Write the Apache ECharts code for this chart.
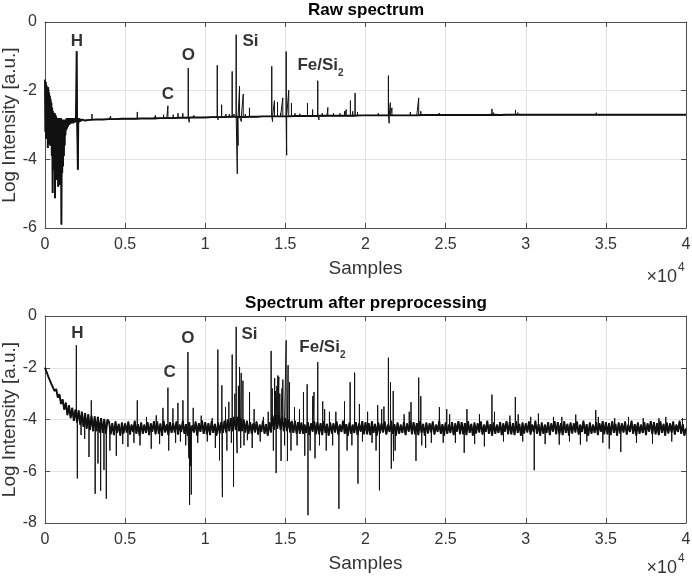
<!DOCTYPE html>
<html><head><meta charset="utf-8">
<script src="https://cdn.jsdelivr.net/npm/echarts@6/dist/echarts.min.js"></script>
<style>html,body{margin:0;padding:0;background:#fff}#c{width:692px;height:577px}</style>
</head><body><div id="c"></div>
<script>
// ---------- DATA ----------
// Raw spectrum, dense early part (sample index start/step + values)
const rawEarlyStart = 0, rawEarlyStep = 25;
const rawEarly = [
  -1.68,-3.20,-1.75,-3.40,-1.85,-3.10,-1.95,-3.67,-1.90,-3.30,
  -2.05,-3.55,-2.15,-3.60,-2.25,-3.45,-2.35,-3.90,-2.50,-4.98,
  -2.60,-4.30,-2.65,-4.10,-2.65,-5.13,-2.70,-4.40,-2.75,-4.60,
  -2.80,-4.50,-2.80,-4.80,-2.80,-4.60,-2.80,-4.75,-2.85,-4.50,
  -2.80,-5.90,-2.85,-4.40,-2.85,-4.20,-2.85,-3.90,-2.85,-3.60,
  -2.85,-3.30,-2.85,-3.15,-2.80,-3.10,-2.85,-3.05,-2.80,-3.00,
  -2.85,-3.00,-2.80,-2.95,-2.82,-2.95,-2.80,-2.95,-2.82,-2.92,
  -2.80,-2.95,-2.82,-2.92,-2.80,-2.90,-2.80,-2.92,-2.20,-0.85,
  -2.70,-3.40,-4.30,-2.95,-2.80,-2.92,-2.82,-2.90,-2.82,-2.88,
  -2.83,-2.88,-2.83,-2.88,-2.84,-2.87,-2.84,-2.87,-2.84,-2.87
];
// Raw spectrum baseline
const rawBaseStart = 2800, rawBaseStep = 400;
const rawBase = [
  -2.85,-2.84,-2.84,-2.83,-2.83,-2.82,-2.82,-2.82,-2.81,-2.81,
  -2.81,-2.80,-2.80,-2.80,-2.79,-2.79,-2.78,-2.78,-2.78,-2.77,
  -2.77,-2.77,-2.76,-2.76,-2.77,-2.76,-2.76,-2.75,-2.75,-2.75,
  -2.75,-2.75,-2.74,-2.74,-2.74,-2.74,-2.73,-2.73,-2.73,-2.73,
  -2.73,-2.73,-2.72,-2.72,-2.72,-2.72,-2.72,-2.72,-2.72,-2.72,
  -2.72,-2.72,-2.71,-2.71,-2.71,-2.71,-2.71,-2.71,-2.71,-2.71,
  -2.71,-2.71,-2.71,-2.70,-2.71,-2.70,-2.70,-2.70,-2.70,-2.70,
  -2.70,-2.70,-2.70,-2.70,-2.70,-2.70,-2.70,-2.70,-2.70,-2.70,
  -2.70,-2.70,-2.70,-2.70,-2.70,-2.70,-2.70,-2.70,-2.70,-2.70,
  -2.70,-2.70,-2.70,-2.70
];
// Raw spectrum peaks: [sample, base value, peak value]
const rawPeaks = [
  [2930,-2.84,-2.68],[4100,-2.83,-2.74],[5760,-2.82,-2.62],[6900,-2.80,-2.72],
  [7400,-2.80,-2.70],[7670,-2.79,-2.44],[8000,-2.79,-2.70],[8300,-2.79,-2.66],
  [8600,-2.78,-2.66],[8940,-2.78,-1.34],[9000,-2.78,-2.92],[9300,-2.78,-2.72],
  [10750,-2.77,-1.26],[10800,-2.77,-2.85],[11020,-2.77,-2.41],[11300,-2.76,-2.68],
  [11500,-2.76,-2.68],[11680,-2.76,-1.44],[11800,-2.76,-2.68],[11930,-2.76,-0.37],
  [12000,-2.76,-4.42],[12050,-2.76,-3.60],[12140,-2.76,-1.87],[12250,-2.76,-2.90],
  [12370,-2.76,-2.10],[12500,-2.76,-2.68],[12760,-2.76,-2.50],[14150,-2.75,-1.29],
  [14200,-2.75,-2.90],[14320,-2.75,-2.29],[14510,-2.75,-2.33],[14700,-2.75,-2.65],
  [14840,-2.75,-2.21],[15050,-2.75,-0.86],[15080,-2.75,-3.88],[15210,-2.75,-1.99],
  [15380,-2.75,-2.36],[15600,-2.75,-2.66],[15900,-2.74,-2.67],[16380,-2.74,-2.36],
  [16700,-2.74,-2.55],[17020,-2.74,-1.71],[17100,-2.74,-2.85],[17300,-2.74,-2.66],
  [17650,-2.73,-2.49],[18000,-2.73,-2.66],[18400,-2.73,-2.66],[18700,-2.73,-2.60],
  [18800,-2.73,-2.55],[19060,-2.73,-2.29],[19200,-2.73,-2.60],[19350,-2.73,-2.07],
  [19500,-2.73,-2.62],[20800,-2.72,-2.66],[21430,-2.72,-1.56],[21480,-2.72,-2.95],
  [21550,-2.72,-2.35],[21650,-2.72,-2.50],[22800,-2.72,-2.62],[23320,-2.72,-2.21],
  [23450,-2.72,-2.60],[24600,-2.71,-2.65],[25100,-2.71,-2.66],[26300,-2.71,-2.66],
  [27890,-2.71,-2.53],[28000,-2.71,-2.64],[29360,-2.70,-2.56],[29500,-2.70,-2.64],
  [30800,-2.70,-2.66],[34400,-2.70,-2.64]
];
// Preprocessed spectrum baseline (step 100 samples)
const procBaseStart = 0, procBaseStep = 100;
const procBase = [
  -2.00,-2.07,-2.33,-2.34,-2.63,-2.57,-2.90,-2.82,-3.15,-3.02,-3.40,-3.22,-3.62,-3.35,-3.83,-3.45,-3.95,-3.55,-4.05,-3.62,
  -4.12,-3.65,-4.20,-3.70,-4.28,-3.75,-4.35,-3.80,-4.40,-3.85,-4.45,-3.88,-4.45,-3.90,-4.50,-3.95,-4.52,-3.98,-4.55,-4.00,
  -4.10,-4.57,-4.14,-4.60,-4.07,-4.52,-4.17,-4.62,-4.12,-4.54,-4.15,-4.50,-4.08,-4.58,-4.20,-4.48,-4.05,-4.55,-4.18,-4.62,
  -4.12,-4.55,-4.20,-4.52,-4.10,-4.60,-4.15,-4.47,-4.06,-4.57,-4.08,-4.55,-4.16,-4.63,-4.05,-4.50,-4.19,-4.60,-4.10,-4.52,
  -4.15,-4.50,-4.08,-4.58,-4.20,-4.48,-4.05,-4.55,-4.18,-4.62,-4.10,-4.58,-4.22,-4.50,-4.08,-4.62,-4.14,-4.48,-4.04,-4.56,
  -4.10,-4.57,-4.14,-4.60,-4.07,-4.52,-4.17,-4.62,-4.12,-4.54,-4.10,-4.52,-4.05,-4.50,-4.00,-4.45,-3.95,-4.45,-3.90,-4.40,
  -3.90,-4.45,-3.95,-4.45,-4.00,-4.50,-4.05,-4.55,-4.10,-4.55,-4.15,-4.50,-4.08,-4.58,-4.20,-4.48,-4.05,-4.55,-4.18,-4.62,
  -4.10,-4.50,-3.85,-4.40,-3.80,-4.35,-3.85,-4.40,-3.90,-4.45,-3.95,-4.45,-4.00,-4.50,-4.05,-4.52,-4.05,-4.55,-4.10,-4.55,
  -4.12,-4.55,-4.20,-4.52,-4.10,-4.60,-4.15,-4.47,-4.06,-4.57,-4.10,-4.57,-4.14,-4.60,-4.07,-4.52,-4.17,-4.62,-4.12,-4.54,
  -4.15,-4.50,-4.08,-4.58,-4.20,-4.48,-4.05,-4.55,-4.18,-4.62,-4.12,-4.55,-4.20,-4.52,-4.10,-4.60,-4.15,-4.47,-4.06,-4.57,
  -4.10,-4.57,-4.14,-4.60,-4.07,-4.52,-4.17,-4.62,-4.12,-4.54,-4.15,-4.50,-4.08,-4.58,-4.20,-4.48,-4.05,-4.55,-4.18,-4.62,
  -4.12,-4.55,-4.20,-4.52,-4.10,-4.60,-4.15,-4.47,-4.06,-4.57,-4.10,-4.57,-4.14,-4.60,-4.07,-4.52,-4.17,-4.62,-4.12,-4.54,
  -4.15,-4.50,-4.08,-4.58,-4.20,-4.48,-4.05,-4.55,-4.18,-4.62,-4.12,-4.55,-4.20,-4.52,-4.10,-4.60,-4.15,-4.47,-4.06,-4.57,
  -4.10,-4.57,-4.14,-4.60,-4.07,-4.52,-4.17,-4.62,-4.12,-4.54,-4.15,-4.50,-4.08,-4.58,-4.20,-4.48,-4.05,-4.55,-4.18,-4.62,
  -4.12,-4.55,-4.20,-4.52,-4.10,-4.60,-4.15,-4.47,-4.06,-4.57,-4.10,-4.57,-4.14,-4.60,-4.07,-4.52,-4.17,-4.62,-4.12,-4.54,
  -4.15,-4.50,-4.08,-4.58,-4.20,-4.48,-4.05,-4.55,-4.18,-4.62,-4.12,-4.55,-4.20,-4.52,-4.10,-4.60,-4.15,-4.47,-4.06,-4.57,
  -4.10,-4.57,-4.14,-4.60,-4.07,-4.52,-4.17,-4.62,-4.12,-4.54,-4.15,-4.50,-4.08,-4.58,-4.20,-4.48,-4.05,-4.55,-4.18,-4.62,
  -4.12,-4.55,-4.20,-4.52,-4.10,-4.60,-4.15,-4.47,-4.06,-4.57,-4.10,-4.57,-4.14,-4.60,-4.07,-4.52,-4.17,-4.62,-4.12,-4.54,
  -4.15,-4.50,-4.08,-4.58,-4.20,-4.48,-4.05,-4.55,-4.18,-4.62,-4.12,-4.55,-4.20,-4.52,-4.10,-4.60,-4.15,-4.47,-4.06,-4.57,
  -4.10,-4.57,-4.14,-4.60,-4.07,-4.52,-4.17,-4.62,-4.12,-4.54,-4.15,-4.50,-4.08,-4.58,-4.20,-4.48,-4.05,-4.55,-4.18,-4.62,
  -4.35
];
// Preprocessed spectrum peaks: [sample, base value, extreme value]
const procPeaks = [
  [1956,-3.85,-1.13],[2018,-3.90,-6.28],[2250,-3.95,-4.60],[2476,-4.00,-4.75],
  [2745,-4.10,-5.45],[2890,-4.10,-3.26],[3130,-4.15,-6.87],[3306,-4.20,-5.70],
  [3472,-4.20,-6.75],[3680,-4.25,-5.95],[3826,-4.25,-7.06],[4050,-4.30,-5.20],
  [4450,-4.30,-5.40],[4850,-4.30,-4.95],[5176,-4.30,-5.06],[5550,-4.30,-4.90],
  [5759,-4.30,-3.26],[5930,-4.30,-5.00],[6330,-4.30,-3.90],[6630,-4.30,-5.13],
  [6943,-4.30,-3.84],[7150,-4.30,-4.95],[7359,-4.30,-3.55],[7670,-4.30,-2.77],
  [7720,-4.30,-5.20],[7982,-4.30,-3.57],[8150,-4.30,-4.90],[8294,-4.30,-3.36],
  [8450,-4.30,-4.85],[8606,-4.30,-3.26],[8780,-4.30,-5.00],[8918,-4.30,-1.39],
  [8980,-4.30,-5.50],[9022,-4.30,-7.30],[9080,-4.30,-5.80],[9130,-4.30,-6.90],
  [9250,-4.30,-3.55],[9530,-4.30,-4.90],[9750,-4.30,-3.85],[10130,-4.30,-4.85],
  [10430,-4.30,-3.95],[10630,-4.30,-5.10],[10785,-4.30,-1.30],[10890,-4.30,-5.58],
  [11036,-4.30,-2.68],[11070,-4.30,-7.00],[11265,-4.20,-3.52],[11350,-4.20,-5.20],
  [11473,-4.20,-3.32],[11630,-4.20,-4.90],[11681,-4.10,-1.49],[11764,-4.10,-6.60],
  [11850,-4.10,-3.00],[11930,-4.10,-0.42],[11990,-4.10,-5.30],[12070,-4.10,-2.70],
  [12140,-4.10,-1.97],[12210,-4.10,-5.10],[12244,-4.10,-2.20],[12350,-4.10,-2.50],
  [12420,-4.10,-5.00],[12630,-4.20,-4.80],[12764,-4.20,-2.94],[12930,-4.20,-5.10],
  [13050,-4.30,-3.60],[13430,-4.30,-4.85],[13630,-4.30,-3.90],[13930,-4.30,-3.70],
  [14110,-4.20,-1.35],[14180,-4.10,-2.80],[14250,-4.00,-5.20],[14330,-4.00,-2.40],
  [14380,-4.00,-2.90],[14422,-4.00,-6.07],[14470,-4.00,-2.70],[14530,-4.00,-2.30],
  [14590,-4.00,-2.35],[14650,-4.00,-3.00],[14730,-4.00,-5.60],[14790,-4.00,-2.80],
  [14840,-4.00,-2.46],[14950,-4.00,-5.00],[15050,-4.00,-0.94],[15130,-4.00,-5.60],
  [15170,-4.00,-1.90],[15256,-4.10,-2.56],[15350,-4.10,-5.20],[15570,-4.20,-3.52],
  [15730,-4.30,-5.00],[15880,-4.30,-3.60],[16130,-4.30,-2.94],[16210,-4.30,-5.40],
  [16360,-4.30,-2.64],[16410,-4.30,-7.70],[16550,-4.30,-5.20],[16710,-4.30,-3.10],
  [16790,-4.30,-2.94],[16850,-4.30,-5.50],[17020,-4.30,-1.78],[17130,-4.30,-5.00],
  [17330,-4.30,-3.30],[17450,-4.30,-3.60],[17550,-4.30,-5.20],[17750,-4.30,-3.70],
  [17950,-4.30,-5.00],[18150,-4.30,-3.70],[18340,-4.30,-7.45],[18690,-4.30,-3.30],
  [18850,-4.30,-5.20],[19040,-4.30,-2.56],[19150,-4.30,-5.00],[19320,-4.30,-2.19],
  [19530,-4.30,-6.48],[19620,-4.30,-3.40],[19810,-4.30,-4.85],[20130,-4.30,-3.70],
  [20410,-4.30,-4.90],[20660,-4.30,-5.20],[20760,-4.30,-3.45],[20870,-4.30,-6.74],
  [21010,-4.30,-3.60],[21150,-4.30,-3.50],[21430,-4.30,-1.61],[21560,-4.30,-2.56],
  [21610,-4.30,-5.90],[21730,-4.30,-2.90],[21750,-4.30,-5.60],[21850,-4.30,-5.20],
  [22410,-4.30,-3.80],[22730,-4.30,-3.70],[22840,-4.30,-3.33],[23150,-4.30,-5.60],
  [23320,-4.30,-2.38],[23450,-4.30,-3.10],[23510,-4.30,-5.00],[23750,-4.30,-5.10],
  [24110,-4.30,-4.90],[24610,-4.30,-3.52],[24850,-4.30,-4.90],[25070,-4.30,-3.60],
  [25250,-4.30,-3.80],[25610,-4.30,-4.90],[26160,-4.30,-5.29],[26330,-4.30,-3.60],
  [26810,-4.30,-4.95],[27110,-4.30,-3.80],[27420,-4.30,-5.04],[27890,-4.30,-3.04],
  [28050,-4.30,-3.70],[28610,-4.30,-4.85],[29010,-4.30,-3.85],[29350,-4.30,-3.13],
  [29530,-4.30,-3.80],[29810,-4.30,-4.85],[30310,-4.30,-3.90],[30530,-4.30,-5.96],
  [30790,-4.30,-3.77],[31210,-4.30,-4.95],[31730,-4.30,-3.90],[32090,-4.30,-4.97],
  [32250,-4.30,-3.90],[32730,-4.30,-4.85],[33120,-4.30,-3.81],[33410,-4.30,-4.97],
  [33810,-4.30,-4.85],[34370,-4.30,-3.64],[34530,-4.30,-3.90],[34810,-4.30,-4.90],
  [35210,-4.30,-5.13],[35550,-4.30,-3.95],[35930,-4.30,-5.26],[36410,-4.30,-3.90],
  [36910,-4.30,-4.90],[37330,-4.30,-3.95],[37910,-4.30,-4.93],[38310,-4.30,-3.95],
  [38740,-4.30,-3.90],[39110,-4.30,-4.85],[39780,-4.30,-3.95]
];
// Axis ticks
const xTickValues = [0,5000,10000,15000,20000,25000,30000,35000,40000];
const rawYTicks = [-6,-4,-2,0];
const procYTicks = [-8,-6,-4,-2,0];
// Peak annotations (text, sample, value)
const rawLabelText = ['H','C','O','Si','Fe/Si2'];
const rawLabelX = [1995,7668,8940,12824,17190];
const rawLabelY = [-0.57,-2.12,-0.98,-0.57,-1.26];
const procLabelText = ['H','C','O','Si','Fe/Si2'];
const procLabelX = [2020,7775,8915,12760,17310];
const procLabelY = [-0.68,-2.19,-0.85,-0.72,-1.20];

// ---------- BUILD ----------
function build(segments, peaks) {
  const pts = [];
  segments.forEach(([start, step, vals]) => vals.forEach((v, i) => pts.push([start + i * step, v, 0])));
  peaks.forEach(([x, from, to]) => { pts.push([x, from, 1]); pts.push([x, to, 2]); pts.push([x, from, 3]); });
  pts.sort((a, b) => a[0] - b[0] || a[2] - b[2]);
  return pts.map(p => [p[0], p[1]]);
}
const rawSegs = [[rawEarlyStart, rawEarlyStep, rawEarly], [rawBaseStart, rawBaseStep, rawBase]];
const procSegs = [[procBaseStart, procBaseStep, procBase]];
const rawData = build(rawSegs, rawPeaks);
const procData = build(procSegs, procPeaks);
const rawBand = build(rawSegs, []);
const procBand = build(procSegs, []);

const FONT = '"Liberation Sans", Arial, Helvetica, sans-serif';
const AX = '#4d4d4d';
const TXT = '#333333';
const GRIDC = '#e3e3e3';

function labelData(texts, xs, ys) {
  return texts.map((t, i) => ({ value: [xs[i], ys[i]], name: t }));
}
const labelStyle = {
  show: true, position: 'inside', color: '#000', fontFamily: FONT, fontWeight: 'bold', fontSize: 17,
  formatter: p => p.name === 'Fe/Si2' ? '{a|Fe/Si}{b|2}' : '{a|' + p.name + '}',
  rich: {
    a: { fontFamily: FONT, fontWeight: 'bold', fontSize: 17, color: '#000', lineHeight: 20 },
    b: { fontFamily: FONT, fontWeight: 'bold', fontSize: 10, color: '#000', lineHeight: 12, verticalAlign: 'bottom', padding: [0, 0, -3, 0] }
  }
};

function xAxes(gridIndex) {
  return [{
    type: 'value', gridIndex, min: 0, max: 40000, interval: 5000, position: 'bottom',
    axisLine: { show: true, onZero: false, lineStyle: { color: AX, width: 1 } },
    axisTick: { show: true, inside: true, length: 5, lineStyle: { color: AX } },
    axisLabel: { show: true, margin: 9, color: TXT, fontFamily: FONT, fontSize: 16,
      formatter: v => xTickValues.indexOf(v) >= 0 ? String(v / 10000) : '' },
    splitLine: { show: true, lineStyle: { color: GRIDC, width: 1 } },
    name: 'Samples', nameLocation: 'middle', nameGap: 31, nameMoveOverlap: false,
    nameTextStyle: { color: TXT, fontFamily: FONT, fontSize: 19 }
  }, {
    type: 'value', gridIndex, min: 0, max: 40000, interval: 5000, position: 'top',
    axisLine: { show: true, onZero: false, lineStyle: { color: AX, width: 1 } },
    axisTick: { show: true, inside: true, length: 5, lineStyle: { color: AX } },
    axisLabel: { show: false }, splitLine: { show: false }
  }];
}
function yAxes(gridIndex, ymin, ticks) {
  return [{
    type: 'value', gridIndex, min: ymin, max: 0, interval: 2, position: 'left',
    axisLine: { show: true, onZero: false, lineStyle: { color: AX, width: 1 } },
    axisTick: { show: true, inside: true, length: 5, lineStyle: { color: AX } },
    axisLabel: { show: true, margin: 8, color: TXT, fontFamily: FONT, fontSize: 16,
      formatter: v => ticks.indexOf(v) >= 0 ? String(v) : '' },
    splitLine: { show: true, lineStyle: { color: GRIDC, width: 1 } },
    name: 'Log Intensity [a.u.]', nameLocation: 'middle', nameGap: 26, nameMoveOverlap: false,
    nameTextStyle: { color: TXT, fontFamily: FONT, fontSize: 19 }
  }, {
    type: 'value', gridIndex, min: ymin, max: 0, interval: 2, position: 'right',
    axisLine: { show: true, onZero: false, lineStyle: { color: AX, width: 1 } },
    axisTick: { show: true, inside: true, length: 5, lineStyle: { color: AX } },
    axisLabel: { show: false }, splitLine: { show: false }
  }];
}

const lineBase = { type: 'line', showSymbol: false, symbol: 'none', silent: true };
const chart = echarts.init(document.getElementById('c'), null, { renderer: 'canvas' });
chart.setOption({
  animation: false,
  backgroundColor: '#fff',
  grid: [
    { left: 45, top: 22, width: 641, height: 206, outerBoundsMode: 'none', containLabel: false },
    { left: 45, top: 316, width: 641, height: 207, outerBoundsMode: 'none', containLabel: false }
  ],
  xAxis: [...xAxes(0), ...xAxes(1)],
  yAxis: [...yAxes(0, -6, rawYTicks), ...yAxes(1, -8, procYTicks)],
  series: [
    Object.assign({}, lineBase, { xAxisIndex: 0, yAxisIndex: 0, data: rawBand, lineStyle: { color: '#111', width: 1.9 }, z: 2 }),
    Object.assign({}, lineBase, { xAxisIndex: 0, yAxisIndex: 0, data: rawData, lineStyle: { color: '#111', width: 1 }, z: 3 }),
    Object.assign({}, lineBase, { xAxisIndex: 2, yAxisIndex: 2, data: procBand, lineStyle: { color: '#111', width: 1.9 }, z: 2 }),
    Object.assign({}, lineBase, { xAxisIndex: 2, yAxisIndex: 2, data: procData, lineStyle: { color: '#111', width: 1 }, z: 3 }),
    { type: 'scatter', xAxisIndex: 0, yAxisIndex: 0, symbolSize: 0, data: labelData(rawLabelText, rawLabelX, rawLabelY), label: labelStyle, z: 5 },
    { type: 'scatter', xAxisIndex: 2, yAxisIndex: 2, symbolSize: 0, data: labelData(procLabelText, procLabelX, procLabelY), label: labelStyle, z: 5 }
  ],
  graphic: [
    { type: 'text', x: 366, y: 10, style: { text: 'Raw spectrum', font: 'bold 17px ' + FONT, fill: '#000', textAlign: 'center', textVerticalAlign: 'middle' } },
    { type: 'text', x: 366, y: 303, style: { text: 'Spectrum after preprocessing', font: 'bold 17px ' + FONT, fill: '#000', textAlign: 'center', textVerticalAlign: 'middle' } },
    { type: 'text', x: 677, y: 277, style: { text: '\u00d710', font: '18px ' + FONT, fill: TXT, textAlign: 'right', textVerticalAlign: 'middle' } },
    { type: 'text', x: 678, y: 268, style: { text: '4', font: '12px ' + FONT, fill: TXT, textAlign: 'left', textVerticalAlign: 'middle' } },
    { type: 'text', x: 677, y: 568, style: { text: '\u00d710', font: '18px ' + FONT, fill: TXT, textAlign: 'right', textVerticalAlign: 'middle' } },
    { type: 'text', x: 678, y: 559, style: { text: '4', font: '12px ' + FONT, fill: TXT, textAlign: 'left', textVerticalAlign: 'middle' } }
  ]
});
</script>
</body></html>
